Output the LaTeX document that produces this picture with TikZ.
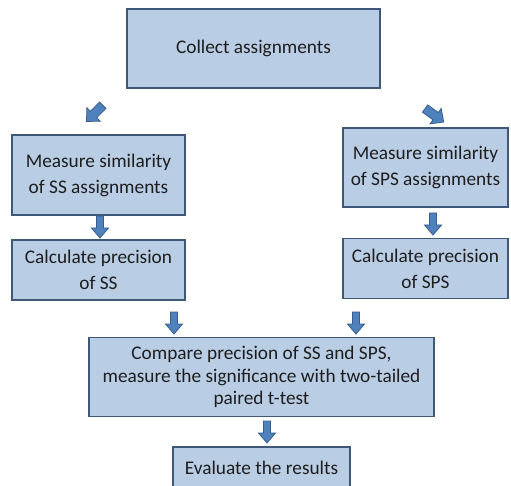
\documentclass[tikz,border=0pt]{standalone}
\usepackage{fontspec}
\setmainfont{Carlito}
\definecolor{boxfill}{HTML}{B9CDE5}
\definecolor{boxline}{HTML}{3F5878}
\definecolor{arrfill}{HTML}{4F81BD}
\definecolor{arrline}{HTML}{385D8A}
\definecolor{txt}{HTML}{1E1E1E}
\tikzset{
  stepbox/.style={draw=boxline, line width=1.8pt, fill=boxfill, align=center,
    inner sep=0pt, text=txt, font=\fontsize{19.3}{26}\selectfont},
  blockarrow/.style={fill=arrfill, draw=arrline, line width=0.8pt, line join=miter},
  downarrow/.pic={\path[blockarrow] (-3.5,0) -- (3.5,0) -- (3.5,12) -- (8.5,12) -- (0,22) -- (-8.5,12) -- (-3.5,12) -- cycle;},
  diagarrow/.pic={\path[blockarrow] (-4.5,-11) -- (4.5,-11) -- (4.5,2) -- (9.5,2) -- (0,12) -- (-9.5,2) -- (-4.5,2) -- cycle;}
}
\begin{document}
\begin{tikzpicture}[x=1pt,y=-1pt]
\useasboundingbox[fill=white] (0,0) rectangle (511,486);
\node[stepbox, minimum width=253, minimum height=79] (collect) at (253.5,48.5) {Collect assignments};
\node[stepbox, minimum width=173, minimum height=80] (mss) at (98.5,175) {Measure similarity\\of SS assignments};
\node[stepbox, minimum width=173, minimum height=60] (cps) at (98.5,270) {Calculate precision\\of SS};
\node[stepbox, minimum width=165, minimum height=79] (msps) at (425.5,167.5) {Measure similarity\\of SPS assignments};
\node[stepbox, minimum width=165, minimum height=60] (cpsps) at (425.5,268.5) {Calculate precision\\of SPS};
\node[stepbox, minimum width=345, minimum height=79, font=\fontsize{19.3}{22.5}\selectfont] (compare) at (261.5,377) {Compare precision of SS and SPS,\\measure the significance with two-tailed\\paired t-test};
\node[stepbox, minimum width=177, minimum height=42] (eval) at (261.5,468) {Evaluate the results};
\pic[rotate=-45] at (95,113) {diagarrow};
\pic[rotate=54] at (434,115) {diagarrow};
\pic at (100,216) {downarrow};
\pic at (433,213) {downarrow};
\pic at (174,312) {downarrow};
\pic at (356,312) {downarrow};
\pic at (267,421) {downarrow};
\end{tikzpicture}
\end{document}
